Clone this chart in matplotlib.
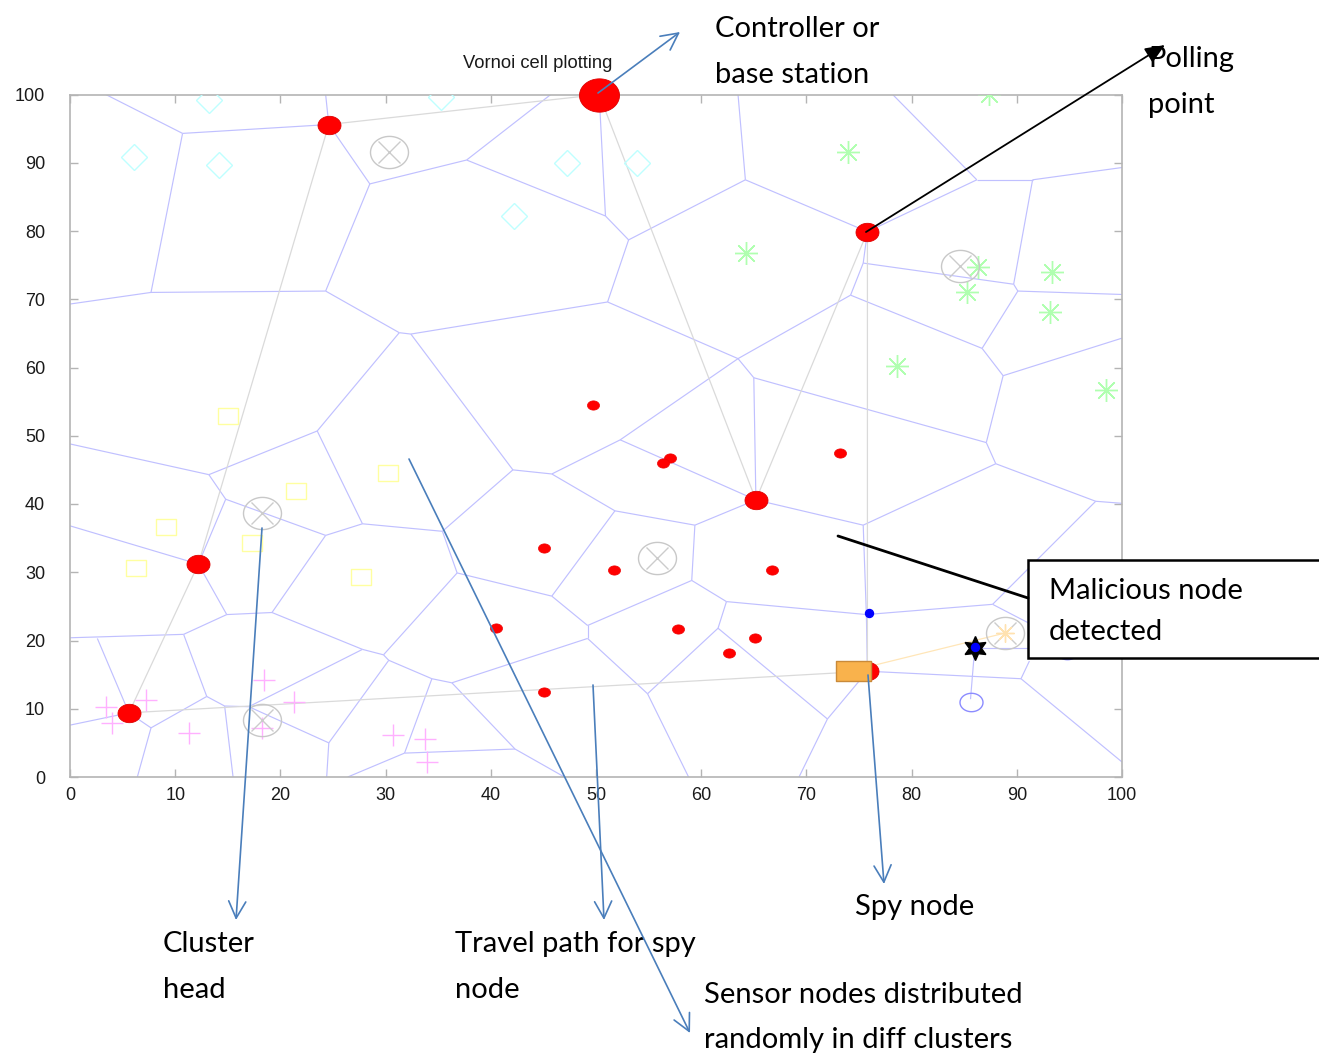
import numpy as np
import matplotlib
matplotlib.use("Agg")
import matplotlib.pyplot as plt
from matplotlib.path import Path
from matplotlib.collections import LineCollection
from matplotlib.patches import FancyArrowPatch, Rectangle

W, H = 1319, 1055

# ---------------- data ----------------
controller_x = [50.3]
controller_y = [100.0]

head_x = [24.6, 65.2, 75.8, 12.2, 5.6, 75.8]
head_y = [95.6, 40.6, 79.9, 31.2, 9.4, 15.5]

sensor_x = [49.7, 57.0, 56.4, 73.2, 45.1, 51.7, 66.7, 40.5, 57.8, 65.1, 62.6, 45.1]
sensor_y = [54.5, 46.7, 46.0, 47.5, 33.6, 30.4, 30.4, 21.9, 21.7, 20.4, 18.2, 12.5]

blue_x = [75.95, 86.0]
blue_y = [24.0, 19.0]

poll_x = [30.3, 18.25, 84.6, 55.8, 18.25, 88.9]
poll_y = [91.6, 38.7, 74.9, 32.1, 8.4, 21.1]

diamond_x = [13.2, 35.3, 6.1, 14.2, 47.2, 53.9, 42.2]
diamond_y = [99.2, 99.6, 90.8, 89.7, 90.0, 90.0, 82.2]

square_x = [15.0, 30.2, 21.5, 9.1, 17.3, 6.3, 27.7]
square_y = [52.9, 44.6, 41.9, 36.7, 34.3, 30.6, 29.3]

plus_x = [3.4, 7.2, 4.0, 18.4, 21.3, 11.3, 30.7, 33.7, 33.9, 18.25]
plus_y = [10.3, 11.3, 7.9, 14.2, 11.0, 6.4, 6.2, 5.6, 2.2, 7.2]

aster_x = [87.4, 74.0, 64.3, 86.3, 85.3, 93.3, 93.2, 78.6, 98.5]
aster_y = [100.1, 91.6, 76.8, 74.7, 71.1, 74.0, 68.1, 60.2, 56.7]

spy_x = [74.4]
spy_y = [15.6]
malicious_x = [86.0]
malicious_y = [18.9]
target_x = [88.9]
target_y = [21.1]
ring_x = [85.6, 94.8]
ring_y = [11.0, 18.6]

travel_x = [5.6, 12.2, 24.6, 50.3, 65.2, 75.8, 75.8, 5.6]
travel_y = [9.4, 31.2, 95.6, 100.0, 40.6, 79.9, 15.5, 9.4]

vor_x = [3.4, 10.7, 24.6, 7.7, 0.0, 24.3, 28.5, 24.3, 37.7, 45.7,
         50.3, 50.9, 53.1, 51.1, 31.3, 32.4, 23.5, 42.1, 64.2, 63.5,
         75.8, 86.2, 78.2, 91.5, 100.0, 89.7, 75.4, 74.2, 90.1, 100.0,
         86.7, 88.7, 100.0, 87.1, 88.0, 63.5, 65.0, 52.3, 65.2, 45.8,
         51.8, 59.4, 75.4, 97.5, 100.0, 75.7, 87.7, 59.1, 62.4, 49.2,
         45.8, 49.2, 61.6, 54.9, 58.8, 72.0, 75.8, 69.3, 90.4, 100.0,
         91.2, 35.4, 27.8, 36.8, 29.8, 27.8, 30.3, 34.4, 36.3, 31.8,
         42.3, 26.4, 47.0, 24.6, 24.4, 17.0, 14.7, 15.5, 13.0, 7.7,
         5.6, 6.4, 0.0, 10.8, 0.0, 2.6, 14.9, 19.2, 24.3, 14.8,
         13.2, 0.0, 12.2, 0.0, 91.2, 86.0, 85.6, 91.2]
vor_y = [100.0, 94.3, 95.6, 71.0, 69.3, 71.2, 86.9, 100.0, 90.4, 100.0,
         100.0, 82.2, 78.7, 69.6, 65.1, 64.9, 50.7, 45.0, 87.5, 100.0,
         79.9, 87.5, 100.0, 87.5, 89.3, 72.2, 75.3, 70.6, 71.2, 70.7,
         62.8, 58.8, 64.3, 49.0, 45.9, 61.3, 58.5, 49.4, 40.6, 44.4,
         39.0, 36.9, 36.9, 40.4, 40.1, 23.8, 25.3, 28.8, 25.7, 22.2,
         26.5, 20.3, 21.8, 12.2, 0.0, 8.5, 15.5, 0.0, 14.4, 2.2,
         22.5, 36.0, 37.1, 29.9, 17.9, 18.7, 17.1, 14.4, 13.8, 3.5,
         4.1, 0.0, 0.0, 5.0, 0.0, 10.3, 10.4, 0.0, 11.8, 7.2,
         9.4, 0.0, 7.6, 20.9, 20.4, 20.3, 23.8, 24.1, 35.4, 40.7,
         44.3, 48.8, 31.2, 36.8, 17.0, 18.9, 11.4, 18.9]
vor_edges = [(0, 1), (1, 2), (1, 3), (4, 3), (3, 5), (5, 6), (6, 2), (7, 2), (6, 8), (8, 9),
             (8, 11), (10, 11), (11, 12), (12, 13), (5, 14), (14, 15), (15, 13), (14, 16), (15, 17),
             (12, 18), (19, 18), (18, 20), (20, 21), (22, 21), (21, 23), (23, 24), (23, 25), (26, 25),
             (20, 26), (26, 27), (13, 35), (27, 35), (27, 30), (25, 28), (28, 29), (28, 30), (30, 31),
             (31, 32), (31, 33), (35, 36), (36, 38), (36, 33), (33, 34), (35, 37), (37, 38), (37, 39),
             (17, 39), (39, 40), (40, 41), (41, 38), (38, 42), (42, 34), (34, 43), (43, 44), (42, 45),
             (43, 46), (45, 46), (46, 60), (41, 47), (47, 49), (47, 48), (48, 52), (48, 45), (40, 50),
             (50, 49), (49, 51), (51, 53), (53, 52), (53, 54), (52, 55), (55, 56), (55, 57), (56, 58),
             (58, 59), (58, 94), (45, 56), (17, 61), (61, 62), (62, 16), (61, 63), (63, 50), (63, 64),
             (64, 65), (64, 66), (65, 87), (65, 75), (66, 67), (66, 73), (67, 68), (67, 69), (69, 71),
             (69, 70), (70, 72), (68, 70), (68, 51), (73, 75), (73, 74), (75, 76), (76, 78), (76, 77),
             (78, 83), (78, 79), (79, 80), (79, 81), (82, 80), (83, 84), (83, 86), (85, 80), (86, 87),
             (86, 92), (87, 88), (88, 89), (88, 62), (89, 90), (89, 92), (90, 91), (90, 16), (93, 92),
             (95, 96), (95, 97)]

x_ticks = [0, 10, 20, 30, 40, 50, 60, 70, 80, 90, 100]
y_ticks = [0, 10, 20, 30, 40, 50, 60, 70, 80, 90, 100]

# ---------------- helpers ----------------
def F(px, py):
    return (px / W, 1 - py / H)

def ellipse_marker(ratio):
    t = np.linspace(0, 2 * np.pi, 73)
    return Path(np.column_stack([np.cos(t) * ratio, np.sin(t)]), closed=True)

def rect_marker(ratio):
    v = [(-ratio, -1), (ratio, -1), (ratio, 1), (-ratio, 1), (-ratio, -1)]
    return Path(v, closed=True)

PX = 0.72  # points per pixel at dpi 100

fig = plt.figure(figsize=(W / 100, H / 100), dpi=100)
fig.patch.set_facecolor("white")
ax = fig.add_axes([70 / W, 1 - 777 / H, 1052 / W, 682.5 / H])
ax.set_xlim(0, 100)
ax.set_ylim(0, 100)

# Voronoi edges
segs = [[(vor_x[a], vor_y[a]), (vor_x[b], vor_y[b])] for a, b in vor_edges]
ax.add_collection(LineCollection(segs, colors="#c0c0ff", linewidths=0.85, zorder=2))

# travel path
ax.plot(travel_x, travel_y, color="#dadada", lw=0.9, zorder=2.5)
# spy -> malicious target line
ax.plot([spy_x[0], target_x[0]], [spy_y[0], target_y[0]], color="#ffe6b8", lw=0.9, zorder=2.5)

# sensor groups
ax.plot(diamond_x, diamond_y, ls="none", marker="D", ms=13, mfc="none", mec="#bfffff", mew=1, zorder=3)
ax.plot(square_x, square_y, ls="none", marker=rect_marker(1.2), ms=20 * PX, mfc="none", mec="#ffffa0", mew=1, zorder=3)
ax.plot(plus_x, plus_y, ls="none", marker="+", ms=23 * PX, mec="#ffb0ff", mew=1, zorder=3)
ax.plot(aster_x, aster_y, ls="none", marker=(8, 2, 0), ms=23 * PX, mec="#b0ffb0", mew=1, zorder=3)

# polling points
ax.plot(poll_x, poll_y, ls="none", marker=ellipse_marker(1.18), ms=38 * PX, mfc="none", mec="#c8c8c8", mew=1, zorder=3)
ax.plot(poll_x, poll_y, ls="none", marker="x", ms=22 * PX, mec="#cccccc", mew=1, zorder=3)
ax.plot(target_x, target_y, ls="none", marker=(8, 2, 0), ms=18 * PX, mec="#ffe2b0", mew=1, zorder=3.2)

# nodes
ax.plot(sensor_x, sensor_y, ls="none", marker=ellipse_marker(1.3), ms=12 * PX, mfc="#ff0000", mec="#ee0000", mew=0.5, zorder=4)
ax.plot(head_x, head_y, ls="none", marker=ellipse_marker(1.25), ms=23 * PX, mfc="#ff0000", mec="#dd0000", mew=0.6, zorder=4)
ax.plot(controller_x, controller_y, ls="none", marker=ellipse_marker(1.2), ms=40 * PX, mfc="#ff0000", mec="#dd0000", mew=0.6, zorder=4, clip_on=False)
ax.plot(ring_x, ring_y, ls="none", marker=ellipse_marker(1.25), ms=23 * PX, mfc="none", mec="#8c8cff", mew=1, zorder=4)
ax.plot(malicious_x, malicious_y, ls="none", marker=(6, 1, 0), ms=24 * PX, mfc="black", mec="black", zorder=5)
ax.plot(blue_x, blue_y, ls="none", marker="o", ms=8 * PX, mfc="#0000ff", mec="#0000ff", zorder=6)
ax.plot(spy_x, spy_y, ls="none", marker=rect_marker(1.7), ms=35 * PX, mfc="#f9b24c", mec="#c98a3a", mew=1, zorder=5)

# axes styling
ax.set_xticks(x_ticks)
ax.set_yticks(y_ticks)
for s in ax.spines.values():
    s.set_color("#b4b4b4")
    s.set_linewidth(1.2)
tick_font = ["Liberation Sans Narrow", "Liberation Sans"]
ax.tick_params(direction="in", length=6, width=1, color="#b4b4b4", top=True, right=True,
               labelsize=13, labelcolor="#1a1a1a")
ax.tick_params(axis="x", pad=7)
ax.tick_params(axis="y", pad=18)
for lab in ax.get_xticklabels() + ax.get_yticklabels():
    lab.set_family(tick_font)

# ---------------- annotations ----------------
ann_font = ["Lato", "DejaVu Sans"]
ann_size = 21
lines = [
    ("Controller or", 715, 37), ("base station", 715, 83),
    ("Polling", 1148, 67), ("point", 1148, 113),
    ("Spy node", 855, 915),
    ("Cluster", 163, 952), ("head", 163, 998),
    ("Travel path for spy", 455, 952), ("node", 455, 998),
    ("Sensor nodes distributed", 704, 1003), ("randomly in diff clusters", 704, 1048),
]
for s, px, py in lines:
    fig.text(*F(px, py), s, fontsize=ann_size, family=ann_font, ha="left", va="baseline", zorder=6)

fig.text(*F(463, 68), "Vornoi cell plotting", fontsize=13.2, family=tick_font, ha="left",
         va="baseline", color="#1a1a1a", zorder=6)

# malicious box
box = Rectangle(F(1028, 658), (1345 - 1028) / W, (658 - 560) / H, transform=fig.transFigure,
                facecolor="white", edgecolor="black", lw=1.8, zorder=4)
fig.add_artist(box)
fig.text(*F(1049, 599), "Malicious node", fontsize=ann_size, family=ann_font, ha="left", va="baseline", zorder=6)
fig.text(*F(1049, 640), "detected", fontsize=ann_size, family=ann_font, ha="left", va="baseline", zorder=6)

blue = "#4a7ebb"
blue_arrows = [((598, 93), (680, 32)), ((262, 528), (236, 920)), ((593, 685), (604, 920)),
               ((409, 459), (690, 1033)), ((868, 675), (884, 884))]
for (t, h) in blue_arrows:
    fig.add_artist(FancyArrowPatch(F(*t), F(*h), transform=fig.transFigure,
                                   arrowstyle="->,head_length=0.55,head_width=0.28",
                                   mutation_scale=22, color=blue, lw=1.2,
                                   shrinkA=0, shrinkB=0, zorder=7))

fig.add_artist(FancyArrowPatch(F(866, 232), F(1165, 45), transform=fig.transFigure,
                               arrowstyle="-|>,head_length=0.6,head_width=0.25",
                               mutation_scale=20, color="black", lw=1.3,
                               shrinkA=0, shrinkB=0, zorder=7))
fig.add_artist(FancyArrowPatch(F(838, 536), F(1028, 598), transform=fig.transFigure,
                               arrowstyle="-", color="black", lw=2.0,
                               shrinkA=0, shrinkB=0, zorder=7))

fig.savefig("out.png", dpi=100, facecolor="white")
